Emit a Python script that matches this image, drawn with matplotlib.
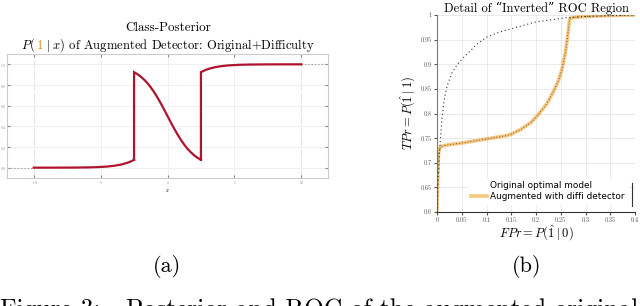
import matplotlib
matplotlib.use("Agg")
import matplotlib.pyplot as plt
from matplotlib.lines import Line2D
from matplotlib.offsetbox import TextArea, HPacker, AnchoredOffsetbox

plt.rcParams["font.family"] = ["cmr10", "DejaVu Serif"]
plt.rcParams["mathtext.fontset"] = "cm"
plt.rcParams["axes.formatter.use_mathtext"] = True

# (a) class posterior of the augmented detector
post_x_left = [-10, -9, -8, -7, -6, -5.5, -5, -4.5, -4, -3.5, -3, -2.75, -2.5]
post_y_left = [0.000, 0.0001, 0.0003, 0.0009, 0.0025, 0.004, 0.007, 0.011, 0.018, 0.029, 0.047, 0.060, 0.076]
post_x_mid = [-2.5, -2.5, -2.25, -2, -1.75, -1.5, -1.25, -1, -0.75, -0.5, -0.25, 0,
              0.25, 0.5, 0.75, 1, 1.25, 1.5, 1.75, 2, 2.25, 2.5]
post_y_mid = [0.076, 0.924, 0.905, 0.881, 0.852, 0.818, 0.777, 0.731, 0.679, 0.622, 0.562, 0.500,
              0.438, 0.378, 0.321, 0.269, 0.223, 0.182, 0.148, 0.119, 0.095, 0.076]
post_x_right = [2.5, 2.5, 2.75, 3, 3.5, 4, 4.5, 5, 5.5, 6, 7, 8, 9, 10]
post_y_right = [0.076, 0.924, 0.940, 0.953, 0.971, 0.982, 0.989, 0.993, 0.996, 0.9975, 0.9991, 0.9997, 0.9999, 1.0]
post_xticks = [-10, -5, 0, 5, 10]
post_yticks = [0, 0.2, 0.4, 0.6, 0.8, 1]

# (b) ROC detail
orig_fpr = [0.0, 0.002, 0.004, 0.006, 0.010, 0.015, 0.020, 0.030, 0.040, 0.050, 0.060,
            0.080, 0.100, 0.125, 0.150, 0.200, 0.265, 0.30, 0.40]
orig_tpr = [0.60, 0.66, 0.70, 0.735, 0.79, 0.83, 0.855, 0.882, 0.898, 0.910, 0.920,
            0.940, 0.955, 0.965, 0.972, 0.986, 0.995, 0.997, 1.0]
aug_fpr = [0.0, 0.001, 0.003, 0.007, 0.02, 0.05, 0.08, 0.11, 0.14, 0.15, 0.17, 0.19,
           0.205, 0.222, 0.235, 0.245, 0.252, 0.259, 0.263, 0.266, 0.268, 0.275, 0.30, 0.35, 0.40]
aug_tpr = [0.60, 0.65, 0.72, 0.733, 0.736, 0.740, 0.745, 0.750, 0.755, 0.758, 0.768, 0.782,
           0.798, 0.820, 0.844, 0.866, 0.888, 0.922, 0.950, 0.975, 0.992, 0.995, 0.997, 0.999, 1.0]
roc_xticks = [0, 0.05, 0.1, 0.15, 0.2, 0.25, 0.3, 0.35, 0.4]
roc_xlabels = ["0", "0.05", "0.1", "0.15", "0.2", "0.25", "0.3", "0.35", "0.4"]
roc_yticks = [0.6, 0.65, 0.7, 0.75, 0.8, 0.85, 0.9, 0.95, 1]
roc_ylabels = ["0.6", "0.65", "0.7", "0.75", "0.8", "0.85", "0.9", "0.95", "1"]

W, H = 640, 306
fig = plt.figure(figsize=(6.4, 3.06), dpi=100)


def px_box(left, top, right, bottom):
    return [left / W, 1 - bottom / H, (right - left) / W, (bottom - top) / H]


# ---- panel (a)
ax1 = fig.add_axes(px_box(7, 54, 328, 178))
red = "#b0132d"
for xs, ys in [(post_x_left, post_y_left), (post_x_mid, post_y_mid), (post_x_right, post_y_right)]:
    ax1.plot(xs, ys, color=red, lw=1.6, solid_joinstyle="miter", zorder=3)
ax1.axvline(-10, color="#bbbbbb", lw=0.8, ls=(0, (6, 4)), zorder=1)
ax1.axvline(10, color="#bbbbbb", lw=0.8, ls=(0, (6, 4)), zorder=1)
ax1.plot([-12, -10], [0, 0], color="#aaaaaa", lw=0.8, ls=(0, (1.5, 1.5)))
ax1.plot([10, 12], [1, 1], color="#aaaaaa", lw=0.8, ls=(0, (1.5, 1.5)))
ax1.set_xlim(-12, 12)
ax1.set_ylim(-0.1, 1.1)
ax1.set_xticks(post_xticks)
ax1.set_yticks(post_yticks)
ax1.grid(True, color="#eeeeee", lw=0.6)
ax1.tick_params(labelsize=2.6, colors="#888888", length=2, direction="in",
                top=True, right=True, pad=0.6)
for s in ax1.spines.values():
    s.set_color("#cccccc")
    s.set_linewidth(0.8)
ax1.set_xlabel("$x$", fontsize=4, labelpad=1)

fig.text(168 / W, 1 - 28 / H, "Class-Posterior", ha="center", va="center", fontsize=9.4)
tp = dict(fontsize=9.1)
parts = [
    TextArea("$P($", textprops=tp),
    TextArea("$1$", textprops=dict(fontsize=9.1, color="#e08a1e")),
    TextArea(r"$\;|\;x)$ of Augmented Detector: Original+Difficulty", textprops=tp),
]
box = HPacker(children=parts, align="baseline", pad=0, sep=0)
anch = AnchoredOffsetbox(loc="center", child=box, pad=0, frameon=False,
                         bbox_to_anchor=(168 / W, 1 - 45 / H),
                         bbox_transform=fig.transFigure, borderpad=0)
fig.add_artist(anch)

# ---- panel (b)
ax2 = fig.add_axes(px_box(437, 15, 635, 212))
ax2.plot(aug_fpr, aug_tpr, color="#f2a93b", alpha=0.65, lw=2.6,
         solid_capstyle="butt", zorder=2)
ax2.plot(aug_fpr, aug_tpr, color="#6b5a40", lw=0.7, ls=(0, (1, 2)), zorder=3)
ax2.plot(orig_fpr, orig_tpr, color="#333333", lw=0.8, ls=(0, (1, 2.5)), zorder=3)
ax2.set_xlim(0, 0.4)
ax2.set_ylim(0.6, 1)
ax2.set_xticks(roc_xticks)
ax2.set_xticklabels(roc_xlabels)
ax2.set_yticks(roc_yticks)
ax2.set_yticklabels(roc_ylabels)
ax2.grid(True, color="#e6e6e6", lw=0.6)
ax2.tick_params(labelsize=4.5, colors="#555555", length=2, pad=2)
for name in ["top", "right"]:
    ax2.spines[name].set_visible(False)
ax2.spines["left"].set_color("#777777")
ax2.spines["bottom"].set_color("#333333")
ax2.set_xlabel(r"$FPr = P(\hat{1} \mid 0)$", fontsize=9, labelpad=0)
ax2.set_ylabel(r"$TPr = P(\hat{1} \mid 1)$", fontsize=9, labelpad=1.5)
ax2.set_title("Detail of \u201cInverted\u201d ROC Region", fontsize=9, pad=2)

leg_handles = [
    Line2D([], [], linestyle="none"),
    Line2D([], [], color="#f2a93b", alpha=0.65, lw=2.6),
]
leg_labels = ["Original optimal model", "Augmented with diffi detector"]
ax2.legend(leg_handles, leg_labels, loc="lower right",
           bbox_to_anchor=(0.985, 0.02),
           prop={"family": "DejaVu Sans", "size": 6.4},
           frameon=True, fancybox=False, framealpha=1, edgecolor="white",
           handlelength=1.8, handletextpad=0.4, borderpad=0.3, labelspacing=0.2)
ax2.plot([0.394, 0.394], [0.612, 0.659], color="#333333", lw=0.8, zorder=10,
         clip_on=False)

# ---- sub-labels and caption (caption is cut by the bottom edge, as in the source)
fig.text(167 / W, 1 - 266 / H, "(a)", ha="center", va="center", fontsize=16)
fig.text(527 / W, 1 - 266 / H, "(b)", ha="center", va="center", fontsize=16)
fig.text(0 / W, 1 - 317 / H, "Figure 3:   Posterior and ROC of the augmented original",
         ha="left", va="baseline", fontsize=18.4)

fig.savefig("out.png", dpi=100)
